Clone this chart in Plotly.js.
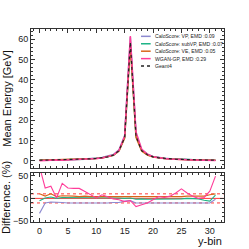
<!DOCTYPE html>
<html><head><meta charset="utf-8">
<script src="https://cdn.plot.ly/plotly-3.0.1.min.js"></script>
<style>html,body{margin:0;padding:0;background:#fff}#c{width:249px;height:249px}</style>
</head><body><div id="c"></div>
<script>
const bins = [0,1,2,3,4,5,6,7,8,9,10,11,12,13,14,15,16,17,18,19,20,21,22,23,24,25,26,27,28,29,30,31];
const geant4 = [0.3,0.35,0.4,0.45,0.5,0.55,0.6,0.7,0.8,1.0,1.2,1.5,2.0,2.8,5.0,11.5,58.5,12.0,5.0,3.0,2.0,1.5,1.2,1.0,0.8,0.7,0.6,0.5,0.45,0.4,0.35,0.3];
const vp = [0.4,0.38,0.43,0.49,0.55,0.6,0.66,0.77,0.88,1.1,1.33,1.65,2.2,3.1,5.5,12.3,61.0,13.2,5.5,3.3,2.2,1.65,1.33,1.1,0.88,0.77,0.66,0.55,0.5,0.44,0.39,0.31];
const subvp = [0.32,0.35,0.39,0.45,0.49,0.54,0.59,0.69,0.79,0.98,1.18,1.47,1.98,2.78,5.0,11.6,58.0,12.2,5.05,3.05,2.05,1.52,1.22,1.01,0.8,0.7,0.6,0.5,0.45,0.42,0.37,0.28];
const ve = [0.27,0.33,0.36,0.43,0.47,0.52,0.57,0.67,0.76,0.95,1.15,1.44,1.94,2.72,4.85,11.2,57.0,11.6,4.85,2.9,1.94,1.45,1.15,0.96,0.77,0.67,0.57,0.48,0.43,0.38,0.32,0.27];
const wgan = [0.1,0.27,0.29,0.44,0.34,0.43,0.47,0.55,0.68,0.92,1.19,1.38,1.92,2.8,5.15,12.3,61.5,14.2,5.7,3.3,2.0,1.44,1.14,0.92,0.7,0.55,0.54,0.47,0.45,0.39,0.29,0.16];
const diffVP = [-33,-10,-8,-8,-9,-10,-10,-10,-10,-10,-10,-11,-10,-9,-9,-6,-5,-10,-10,-10,-10,-9,-10,-10,-10,-10,-10,-9,-10,-9,-10,-2];
const diffSubVP = [-5,1,3,0,2,2,2,2,1,2,2,2,1,1,1,0,1,-2,-1,-2,-2,-1,-1,-1,-1,-1,0,0,-1,-4,-6,7];
const diffVE = [10,5,10,4,6,6,5,4,5,4,4,4,3,3,3,3,3,3,3,3,3,3,4,4,4,4,5,5,4,5,8,10];
const diffWGAN = [70,23,27,1,33,23,22,22,15,8,1,8,4,-1,-3,-7,-5,-18,-14,-10,-3,4,2,5,12,21,12,5,0,2,16,49];
const refLevels = [-10,0,10];
const names = ['CaloScore: VP, EMD :0.09','CaloScore: subVP, EMD :0.07','CaloScore: VE, EMD :0.05','WGAN-GP, EMD :0.29','Geant4'];
const colors = ['#8d8ad0','#1fb487','#d9651a','#ff3d9a','#222222'];

const traces = [];
const tops = [vp, subvp, ve, wgan, geant4];
tops.forEach((ys,i)=>{
  traces.push({x:bins,y:ys,type:'scatter',mode:'lines',xaxis:'x',yaxis:'y',
    line:{color:colors[i],width:i===4?1.2:1.5,dash:i===4?'dot':'solid'},showlegend:false,hoverinfo:'skip'});
});
refLevels.forEach(v=>{
  traces.push({x:[-1.5,32.5],y:[v,v],type:'scatter',mode:'lines',xaxis:'x2',yaxis:'y2',
    line:{color:'#ff2020',width:0.9,dash:v===0?'solid':'dot'},showlegend:false,hoverinfo:'skip'});
});
[diffVP,diffSubVP,diffVE,diffWGAN].forEach((ys,i)=>{
  traces.push({x:bins,y:ys,type:'scatter',mode:'lines',xaxis:'x2',yaxis:'y2',
    line:{color:colors[i],width:1.1},showlegend:false,hoverinfo:'skip',cliponaxis:true});
});

const annotations = [];
const shapes = [];
const legX0 = 0.57, legX1 = 0.62, legTop = 0.962, legStep = 0.0385;
names.forEach((n,i)=>{
  const yy = legTop - i*legStep;
  shapes.push({type:'line',xref:'paper',yref:'paper',x0:legX0,x1:legX1,y0:yy,y1:yy,
    line:{color:colors[i],width:1.5,dash:i===4?'dot':'solid'}});
  annotations.push({xref:'paper',yref:'paper',x:legX1+0.01,y:yy,text:n,showarrow:false,
    xanchor:'left',yanchor:'middle',font:{size:5.1,color:'#222',family:'Liberation Sans, Arial'}});
});
annotations.push({xref:'paper',yref:'paper',x:1.0,y:-0.055,text:'y-bin',showarrow:false,
  xanchor:'right',yanchor:'top',font:{size:11,color:'#111',family:'Liberation Sans, Arial'}});

const axCommon = {showline:true,mirror:'ticks',linecolor:'#333',linewidth:1,ticks:'inside',ticklen:4,
  tickcolor:'#333',zeroline:false,showgrid:false,tickfont:{size:9,color:'#222',family:'Liberation Sans, Arial'}};

const layout = {
  width:249,height:249,margin:{l:31,r:25,t:29,b:27},paper_bgcolor:'#fff',plot_bgcolor:'#fff',
  showlegend:false,
  xaxis:Object.assign({},axCommon,{domain:[0,1],range:[-1.5,32.5],anchor:'y',dtick:5,showticklabels:false,
    minor:{ticks:'inside',ticklen:2,dtick:1,tickcolor:'#333'}}),
  yaxis:Object.assign({},axCommon,{domain:[0.28,1],range:[-3.5,65],anchor:'x',dtick:10,
    minor:{ticks:'inside',ticklen:2,dtick:2,tickcolor:'#333'},
    title:{text:'Mean Energy [GeV]',font:{size:11,color:'#111',family:'Liberation Sans, Arial'},standoff:4}}),
  xaxis2:Object.assign({},axCommon,{domain:[0,1],range:[-1.5,32.5],anchor:'y2',dtick:5,
    minor:{ticks:'inside',ticklen:2,dtick:1,tickcolor:'#333'}}),
  yaxis2:Object.assign({},axCommon,{domain:[0,0.254],range:[-52,56],anchor:'x2',tickvals:[-50,0,50],
    minor:{ticks:'inside',ticklen:2,dtick:10,tickcolor:'#333'},
    title:{text:'Difference. (%)',font:{size:11,color:'#111',family:'Liberation Sans, Arial'},standoff:4}}),
  annotations:annotations,shapes:shapes
};
Plotly.newPlot('c',traces,layout,{staticPlot:true,displayModeBar:false});
</script></body></html>
